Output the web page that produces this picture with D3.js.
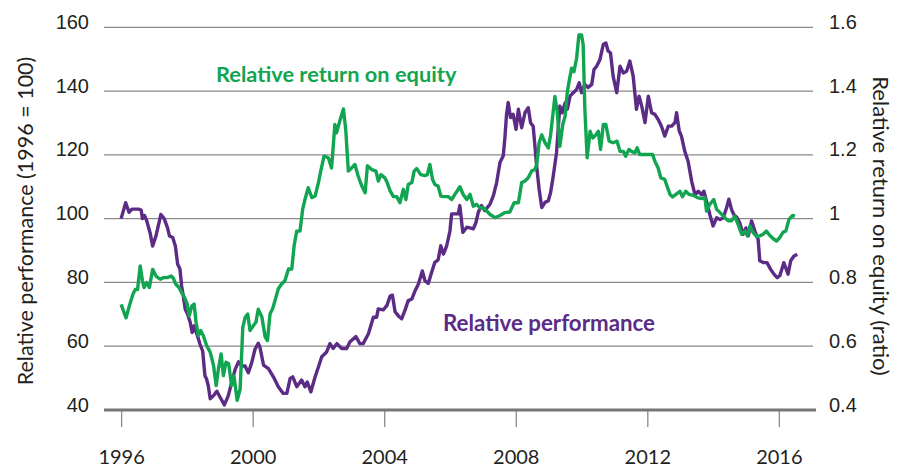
<!DOCTYPE html>
<html lang="en">
<head>
  <meta charset="UTF-8">
  <title>Relative performance and relative return on equity</title>
  <script src="https://d3js.org/d3.v7.min.js"></script>
  <style>
    body { margin: 0; background: #fff; }
    svg { display: block; font-family: Lato, "Open Sans", sans-serif; }
    .tick text { fill: #231f20; font-size: 20px; }
    .grid line { stroke: #8a8a8a; stroke-width: 1.3px; }
    path.series { fill: none; stroke-width: 3.4px; stroke-linejoin: round; }
  </style>
</head>
<body>
<svg></svg>
<script>
  // years on the bottom axis
  const yearTicks = [1996, 2000, 2004, 2008, 2012, 2016];
  const leftTicks = [40, 60, 80, 100, 120, 140, 160];
  const rightTicks = [0.4, 0.6, 0.8, 1.0, 1.2, 1.4, 1.6];

  // relative performance (1996 = 100), left axis
  const perfYears = [
    1996.00, 1996.14, 1996.24, 1996.33, 1996.43, 1996.53, 1996.61, 1996.65, 1996.71, 1996.78,
    1996.88, 1996.96, 1997.06, 1997.21, 1997.31, 1997.41, 1997.47, 1997.57, 1997.65, 1997.72,
    1997.79, 1997.84, 1997.89, 1997.95, 1998.02, 1998.10, 1998.16, 1998.22, 1998.32, 1998.40,
    1998.48, 1998.55, 1998.60, 1998.65, 1998.71, 1998.81, 1998.91, 1999.01, 1999.14, 1999.26,
    1999.36, 1999.47, 1999.57, 1999.67, 1999.77, 1999.87, 1999.97, 2000.07, 2000.17, 2000.22,
    2000.33, 2000.48, 2000.63, 2000.78, 2000.93, 2001.04, 2001.14, 2001.22, 2001.34, 2001.49,
    2001.59, 2001.66, 2001.77, 2001.90, 2002.00, 2002.10, 2002.25, 2002.35, 2002.45, 2002.56,
    2002.71, 2002.86, 2002.96, 2003.14, 2003.26, 2003.36, 2003.52, 2003.67, 2003.77, 2003.82,
    2003.97, 2004.08, 2004.18, 2004.25, 2004.33, 2004.43, 2004.53, 2004.63, 2004.73, 2004.84,
    2004.94, 2005.04, 2005.16, 2005.24, 2005.34, 2005.44, 2005.54, 2005.64, 2005.72, 2005.80,
    2005.90, 2006.00, 2006.05, 2006.15, 2006.25, 2006.30, 2006.39, 2006.51, 2006.61, 2006.71,
    2006.79, 2006.86, 2006.96, 2007.06, 2007.22, 2007.32, 2007.42, 2007.52, 2007.62, 2007.67,
    2007.72, 2007.77, 2007.84, 2007.92, 2008.01, 2008.08, 2008.18, 2008.28, 2008.38, 2008.45,
    2008.53, 2008.64, 2008.71, 2008.79, 2008.89, 2008.99, 2009.06, 2009.14, 2009.24, 2009.34,
    2009.41, 2009.50, 2009.57, 2009.65, 2009.75, 2009.85, 2009.93, 2010.00, 2010.10, 2010.20,
    2010.31, 2010.38, 2010.46, 2010.56, 2010.66, 2010.74, 2010.81, 2010.88, 2010.96, 2011.07,
    2011.17, 2011.27, 2011.37, 2011.47, 2011.57, 2011.67, 2011.75, 2011.83, 2011.93, 2012.03,
    2012.13, 2012.23, 2012.33, 2012.43, 2012.53, 2012.64, 2012.74, 2012.84, 2012.89, 2012.97,
    2013.04, 2013.14, 2013.24, 2013.35, 2013.45, 2013.55, 2013.65, 2013.72, 2013.80, 2013.90,
    2014.00, 2014.11, 2014.21, 2014.31, 2014.41, 2014.48, 2014.56, 2014.63, 2014.73, 2014.81,
    2014.91, 2015.00, 2015.07, 2015.17, 2015.27, 2015.37, 2015.42, 2015.54, 2015.64, 2015.75,
    2015.85, 2015.95, 2016.03, 2016.15, 2016.28, 2016.36, 2016.46, 2016.56
  ];
  const perfValues = [
    100, 105, 102, 103, 103, 103, 102.7, 100, 101, 99.3,
    95.6, 91.4, 94.6, 101.3, 100, 97.2, 94.6, 94.1, 91.4, 85.7,
    84.2, 78.9, 75.8, 71.6, 70.1, 67.5, 64.3, 66.4, 63.3, 60.6,
    58.5, 50.7, 49.7, 47.6, 43.5, 44.5, 45.9, 44, 41.6, 44.5,
    48.6, 52.8, 55.1, 53.8, 53.8, 51.7, 54.8, 59, 60.9, 59.8,
    54.1, 53, 50.4, 47.3, 45.2, 45.2, 49.9, 50.4, 47.3, 49.4,
    47.3, 48.8, 45.7, 50.4, 53.5, 56.7, 58.2, 60.8, 59.3, 60.8,
    59.3, 59.3, 61.4, 63, 60.8, 60.8, 63.9, 69.1, 69.1, 71.7,
    71.4, 72.7, 75.7, 76, 70.8, 69.5, 68.6, 71.2, 74.3, 74.8,
    77.4, 79.5, 83.6, 80.5, 79.7, 83.1, 86.3, 87.1, 91.5, 88.9,
    91.5, 96.2, 101.5, 101.5, 101.5, 104.1, 95.7, 97.3, 97.1, 96.8,
    98.8, 102, 104.1, 102.5, 104.6, 107.2, 111.4, 117.6, 119.7, 125.4,
    132.7, 136.4, 131.7, 132.7, 128, 134.3, 128.5, 133.2, 134.8, 130.1,
    129, 116, 109.3, 103.5, 105.1, 105.6, 108.2, 113.4, 120.7, 135.3,
    133.2, 136.3, 134.3, 138.4, 139.5, 140.5, 142.6, 139.5, 142.1, 141.1,
    142.1, 146.8, 147.8, 149.9, 154.6, 155.1, 152.5, 152, 144.7, 139.5,
    147.8, 145.7, 146.2, 149.4, 144.7, 134.3, 138.4, 135.3, 130.1, 138.4,
    133.2, 132.7, 131.1, 129, 125.9, 129, 129, 130.1, 133.2, 127.5,
    125.8, 121.1, 118, 111.7, 107.5, 108.6, 107.5, 108.6, 105.5, 101.3,
    97.7, 100.3, 99.7, 100.3, 103.4, 106.1, 102.9, 101.3, 100.3, 98.7,
    95.1, 97.1, 94.6, 99.3, 96.1, 93.5, 86.8, 86.2, 86.2, 84.1,
    82.6, 81.5, 82.1, 86.2, 82.6, 86.8, 88.3, 88.8
  ];

  // relative return on equity (ratio), right axis
  const roeYears = [
    1996.00, 1996.15, 1996.25, 1996.36, 1996.43, 1996.50, 1996.58, 1996.65, 1996.70, 1996.78,
    1996.86, 1996.96, 1997.06, 1997.19, 1997.29, 1997.41, 1997.52, 1997.59, 1997.66, 1997.76,
    1997.84, 1997.91, 1998.00, 1998.07, 1998.15, 1998.22, 1998.28, 1998.35, 1998.42, 1998.50,
    1998.60, 1998.71, 1998.81, 1998.89, 1998.96, 1999.04, 1999.11, 1999.19, 1999.27, 1999.36,
    1999.43, 1999.53, 1999.62, 1999.70, 1999.77, 1999.85, 1999.92, 2000.02, 2000.10, 2000.17,
    2000.28, 2000.38, 2000.45, 2000.53, 2000.61, 2000.71, 2000.78, 2000.88, 2000.98, 2001.09,
    2001.19, 2001.26, 2001.34, 2001.44, 2001.52, 2001.59, 2001.69, 2001.80, 2001.90, 2002.00,
    2002.07, 2002.17, 2002.30, 2002.40, 2002.50, 2002.55, 2002.66, 2002.76, 2002.83, 2002.91,
    2003.01, 2003.11, 2003.21, 2003.32, 2003.42, 2003.49, 2003.62, 2003.75, 2003.82, 2003.90,
    2004.02, 2004.09, 2004.18, 2004.28, 2004.38, 2004.48, 2004.58, 2004.66, 2004.73, 2004.84,
    2004.91, 2004.99, 2005.11, 2005.24, 2005.31, 2005.39, 2005.47, 2005.54, 2005.64, 2005.72,
    2005.80, 2005.95, 2006.05, 2006.15, 2006.30, 2006.40, 2006.51, 2006.61, 2006.71, 2006.81,
    2006.91, 2007.01, 2007.12, 2007.22, 2007.37, 2007.52, 2007.67, 2007.82, 2007.95, 2008.08,
    2008.18, 2008.28, 2008.38, 2008.48, 2008.58, 2008.64, 2008.71, 2008.79, 2008.89, 2008.99,
    2009.06, 2009.19, 2009.26, 2009.34, 2009.43, 2009.50, 2009.57, 2009.63, 2009.70, 2009.77,
    2009.85, 2009.92, 2010.00, 2010.05, 2010.10, 2010.17, 2010.26, 2010.34, 2010.44, 2010.51,
    2010.58, 2010.66, 2010.74, 2010.84, 2010.96, 2011.08, 2011.17, 2011.27, 2011.34, 2011.44,
    2011.52, 2011.62, 2011.69, 2011.77, 2012.03, 2012.16, 2012.23, 2012.33, 2012.41, 2012.53,
    2012.60, 2012.69, 2012.77, 2012.87, 2012.99, 2013.07, 2013.17, 2013.27, 2013.40, 2013.52,
    2013.65, 2013.75, 2013.80, 2013.90, 2014.02, 2014.11, 2014.21, 2014.36, 2014.46, 2014.56,
    2014.66, 2014.76, 2014.87, 2014.97, 2015.04, 2015.12, 2015.22, 2015.32, 2015.42, 2015.52,
    2015.62, 2015.72, 2015.83, 2015.93, 2016.03, 2016.13, 2016.21, 2016.31, 2016.42, 2016.49
  ];
  const roeValues = [
    0.731, 0.689, 0.726, 0.763, 0.778, 0.778, 0.852, 0.805, 0.784, 0.800,
    0.784, 0.841, 0.820, 0.810, 0.815, 0.815, 0.820, 0.813, 0.795, 0.784,
    0.768, 0.757, 0.736, 0.695, 0.726, 0.732, 0.675, 0.633, 0.649, 0.633,
    0.602, 0.581, 0.540, 0.477, 0.529, 0.576, 0.508, 0.550, 0.545, 0.477,
    0.508, 0.430, 0.466, 0.659, 0.690, 0.701, 0.649, 0.664, 0.675, 0.716,
    0.692, 0.629, 0.618, 0.702, 0.718, 0.754, 0.780, 0.795, 0.805, 0.842,
    0.842, 0.914, 0.961, 0.961, 1.029, 1.060, 1.097, 1.066, 1.071, 1.113,
    1.149, 1.196, 1.191, 1.159, 1.295, 1.269, 1.310, 1.344, 1.279, 1.149,
    1.159, 1.170, 1.133, 1.102, 1.081, 1.166, 1.154, 1.149, 1.118, 1.138,
    1.128, 1.113, 1.087, 1.069, 1.069, 1.050, 1.092, 1.060, 1.107, 1.113,
    1.149, 1.157, 1.138, 1.135, 1.138, 1.170, 1.123, 1.107, 1.102, 1.071,
    1.069, 1.069, 1.060, 1.076, 1.100, 1.076, 1.060, 1.076, 1.039, 1.045,
    1.034, 1.034, 1.024, 1.013, 1.003, 1.010, 1.019, 1.021, 1.050, 1.050,
    1.113, 1.118, 1.128, 1.149, 1.154, 1.170, 1.238, 1.263, 1.238, 1.222,
    1.263, 1.383, 1.336, 1.227, 1.295, 1.321, 1.399, 1.435, 1.472, 1.461,
    1.503, 1.576, 1.576, 1.545, 1.347, 1.191, 1.274, 1.253, 1.263, 1.274,
    1.217, 1.295, 1.295, 1.243, 1.238, 1.243, 1.211, 1.211, 1.196, 1.217,
    1.211, 1.206, 1.222, 1.201, 1.201, 1.201, 1.180, 1.159, 1.128, 1.123,
    1.102, 1.076, 1.068, 1.076, 1.086, 1.069, 1.086, 1.076, 1.073, 1.066,
    1.063, 1.066, 1.024, 1.045, 1.060, 1.029, 1.019, 1.003, 0.993, 0.993,
    1.008, 0.982, 0.951, 0.961, 0.946, 0.977, 0.956, 0.944, 0.946, 0.951,
    0.961, 0.948, 0.937, 0.930, 0.941, 0.958, 0.961, 0.998, 1.010, 1.008
  ];

  const width = 901, height = 469;
  const svg = d3.select('svg').attr('width', width).attr('height', height);

  const x = d3.scaleLinear().domain([1995.48, 2017.19]).range([104, 818]);
  const yLeft = d3.scaleLinear().domain([40, 160]).range([410, 27.3]);
  const yRight = d3.scaleLinear().domain([0.4, 1.6]).range([410, 27.3]);

  // horizontal gridlines
  svg.append('g').attr('class', 'grid')
    .selectAll('line').data(leftTicks.slice(1)).join('line')
    .attr('x1', 104).attr('x2', 813)
    .attr('y1', d => yLeft(d)).attr('y2', d => yLeft(d));

  // bottom axis with long ticks
  const xAxis = svg.append('g')
    .attr('transform', 'translate(0,411)')
    .call(d3.axisBottom(x).tickValues(yearTicks).tickFormat(d3.format('d'))
      .tickSize(16).tickPadding(23));
  xAxis.select('.domain').remove();
  xAxis.selectAll('.tick line').attr('stroke', '#8a8a8a').attr('stroke-width', 1.3);
  xAxis.selectAll('.tick text').attr('font-family', 'Lato, sans-serif');

  // thick baseline
  svg.append('line')
    .attr('x1', 104).attr('x2', 816)
    .attr('y1', yLeft(40)).attr('y2', yLeft(40))
    .attr('stroke', '#767676').attr('stroke-width', 3);

  const leftAxis = svg.append('g')
    .attr('transform', 'translate(89,0)')
    .call(d3.axisLeft(yLeft).tickValues(leftTicks).tickSize(0).tickPadding(0));
  leftAxis.select('.domain').remove();
  leftAxis.selectAll('.tick text').attr('dy', '0.05em').attr('dominant-baseline', 'auto');

  const rightAxis = svg.append('g')
    .attr('transform', 'translate(829,0)')
    .call(d3.axisRight(yRight).tickValues(rightTicks).tickSize(0).tickPadding(0)
      .tickFormat(d => d === 1 ? '1' : d3.format('.1f')(d)));
  rightAxis.select('.domain').remove();
  rightAxis.selectAll('.tick text').attr('dy', '0.05em').attr('dominant-baseline', 'auto');

  // series lines
  const perfLine = d3.line().x(d => x(d[0])).y(d => yLeft(d[1]));
  const roeLine = d3.line().x(d => x(d[0])).y(d => yRight(d[1]));

  svg.append('path')
    .datum(d3.zip(perfYears, perfValues))
    .attr('class', 'series')
    .attr('stroke', '#5b2b85')
    .attr('d', perfLine);

  svg.append('path')
    .datum(d3.zip(roeYears, roeValues))
    .attr('class', 'series')
    .attr('stroke', '#12a551')
    .attr('d', roeLine);

  // series labels
  svg.append('text')
    .attr('x', 216).attr('y', 82)
    .attr('fill', '#12a551').attr('font-size', 21.8).attr('font-weight', 'bold')
    .text('Relative return on equity');

  svg.append('text')
    .attr('x', 443).attr('y', 331)
    .attr('fill', '#5b2b85').attr('font-size', 22.3).attr('font-weight', 'bold')
    .text('Relative performance');

  // axis titles
  svg.append('text')
    .attr('transform', 'translate(33,221) rotate(-90)')
    .attr('text-anchor', 'middle')
    .attr('fill', '#231f20').attr('font-size', 21.5)
    .text('Relative performance (1996 = 100)');

  svg.append('text')
    .attr('transform', 'translate(873,226) rotate(90)')
    .attr('text-anchor', 'middle')
    .attr('fill', '#231f20').attr('font-size', 22)
    .text('Relative return on equity (ratio)');
</script>
</body>
</html>
